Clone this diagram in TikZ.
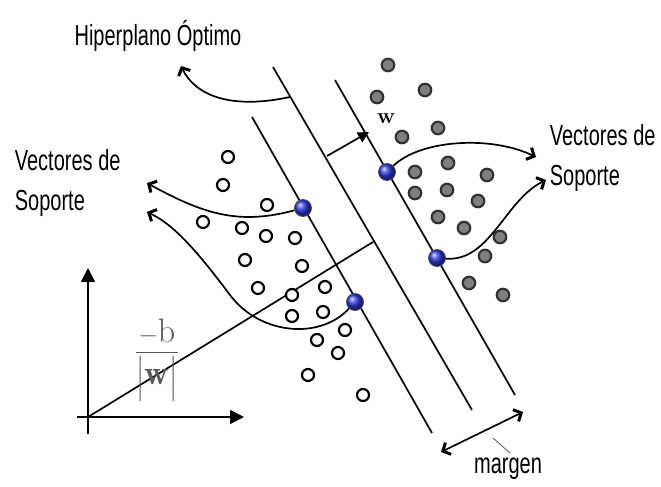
\documentclass[tikz,border=0pt]{standalone}
\usepackage{fontspec}
\usepackage{amsmath}
\usetikzlibrary{arrows.meta}
\newfontfamily\rotulofont[FakeStretch=0.69]{Liberation Sans}
\definecolor{gris}{HTML}{7F7F7F}
\definecolor{grisoscuro}{HTML}{5A5A5A}
\definecolor{azul}{HTML}{2A36E0}

\begin{document}
\begin{tikzpicture}[x=1pt, y=-1pt, line width=1.7pt,
  libre/.style={circle, draw, fill=white, line width=2.2pt, minimum size=12pt, inner sep=0pt},
  clase/.style={circle, draw=black!80, fill=gris, line width=2.2pt, minimum size=12.5pt, inner sep=0pt},
  soporte/.style={circle, draw=black!70, shading=ball, ball color=azul, line width=0.8pt, minimum size=17pt, inner sep=0pt},
  texto/.style={font=\rotulofont\fontsize{29}{40}\selectfont, align=left, inner sep=0pt},
  punta/.tip={Straight Barb[length=6pt,width=13pt,line width=3pt]},
  flecha/.style={-punta},
  doble/.style={punta-punta},
  eje/.style={-{Triangle[length=14pt,width=14pt]}}]
  \useasboundingbox (0,0) rectangle (661,487);

  % Hiperplano y margenes
  \coordinate (hA) at (273,67);  \coordinate (hB) at (472,410);
  \coordinate (iA) at (252,117); \coordinate (iB) at (432,433);
  \coordinate (dA) at (335,80);  \coordinate (dB) at (515,395);
  \draw (hA) -- (hB);
  \draw (iA) -- (iB);
  \draw (dA) -- (dB);

  % Ejes
  \coordinate (O) at (88,417);
  \coordinate (ejeYa) at (88,434); \coordinate (ejeY) at (88,268);
  \coordinate (ejeXa) at (77,417); \coordinate (ejeX) at (244,417);
  \draw[eje] (ejeYa) -- (ejeY);
  \draw[eje] (ejeXa) -- (ejeX);

  % Distancia al origen
  \coordinate (pieb) at (373,242);
  \draw (O) -- (pieb);
  \node[text=grisoscuro, font=\fontsize{34}{38}\selectfont, anchor=base, inner sep=0pt] (frac) at (157,359)
    {$\dfrac{-\mathrm{b}}{\Big|\mathbf{w}\Big|}$};

  % Vector w
  \coordinate (piew) at (327,156);
  \coordinate (puntaw) at (369,132);
  \draw[-{Triangle[length=11pt,width=11pt]}] (piew) -- (puntaw);
  \node[font=\fontsize{22}{24}\selectfont\bfseries] (w) at (386,119) {w};

  % Clase 1 (blancos)
  \foreach \x/\y [count=\i] in {228/157, 223/185, 267/205, 203/222, 242/228, 266/236,
      295/238, 245/260, 302/266, 258/288, 292/295, 325/287, 292/316, 323/312,
      345/330, 317/340, 338/353, 308/375, 363/395}
    \node[libre] (b\i) at (\x,\y) {};

  % Clase 2 (grises)
  \foreach \x/\y [count=\i] in {388/65, 425/90, 377/97, 438/128, 402/137, 415/172,
      448/163, 487/175, 415/193, 447/190, 478/201, 438/217, 464/228, 500/237,
      485/256, 469/283, 503/295}
    \node[clase] (g\i) at (\x,\y) {};

  % Vectores soporte
  \node[soporte] (sv1) at (303,208) {};
  \node[soporte] (sv2) at (355,302) {};
  \node[soporte] (sv3) at (387,172) {};
  \node[soporte] (sv4) at (437,258) {};

  % Rotulos
  \node[texto] (hiper) at (158,36) {Hiperplano Óptimo};
  \node[texto, anchor=west] (vsI) at (14,183) {Vectores de\\Soporte};
  \node[texto, anchor=west] (vsD) at (549,158) {Vectores de\\Soporte};
  \node[texto] (margen) at (508,469) {margen};

  % Flechas de rotulos
  \coordinate (hM) at (290,97);
  \coordinate (fH) at (181,66);
  \draw[flecha] (hM) .. controls (230,110) and (195,95) .. (fH);
  \coordinate (f1) at (147,183);
  \draw[flecha] (sv1) .. controls (240,225) and (205,215) .. (f1);
  \coordinate (f2a) at (230,295);
  \coordinate (f2) at (147,212);
  \draw[flecha] (sv2) .. controls (320,340) and (260,335) .. (f2a)
    .. controls (200,255) and (175,225) .. (f2);
  \coordinate (f3) at (536,157);
  \draw[flecha] (sv3) .. controls (420,140) and (490,135) .. (f3);
  \coordinate (f4) at (546,180);
  \draw[flecha] (sv4) .. controls (490,262) and (505,200) .. (f4);

  % Margen
  \coordinate (mA) at (441,452); \coordinate (mB) at (523,412);
  \draw[doble] (mA) -- (mB);
  \coordinate (tA) at (493,438); \coordinate (tB) at (510,453);
  \draw[line width=0.8pt, grisoscuro] (tA) -- (tB);
\end{tikzpicture}
\end{document}
